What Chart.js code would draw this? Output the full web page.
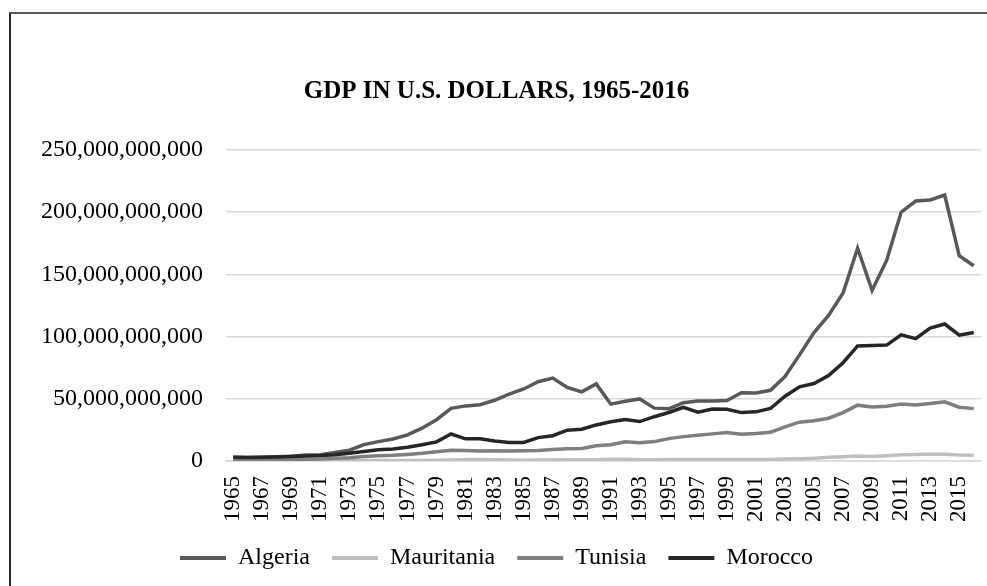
<!DOCTYPE html>
<html>
<head>
<meta charset="utf-8">
<title>GDP in U.S. Dollars, 1965-2016</title>
<script src="https://cdn.jsdelivr.net/npm/chart.js@4.4.1/dist/chart.umd.min.js"></script>
<style>
  html, body { margin: 0; padding: 0; background: #fff; overflow: hidden; }
  #frame {
    position: absolute; left: 9px; top: 12px; width: 1000px; height: 600px;
    border-left: 2px solid #262626; border-top: 2px solid #595959;
  }
  #wrap { position: absolute; left: 0; top: 0; width: 987px; height: 586px; }
</style>
</head>
<body>
<div id="frame"></div>
<div id="wrap"><canvas id="gdpChart"></canvas></div>
<script>
// GDP, billions of U.S. dollars
const years = [
    '1965', '1966', '1967', '1968', '1969', '1970', '1971', '1972', '1973', '1974',
    '1975', '1976', '1977', '1978', '1979', '1980', '1981', '1982', '1983', '1984',
    '1985', '1986', '1987', '1988', '1989', '1990', '1991', '1992', '1993', '1994',
    '1995', '1996', '1997', '1998', '1999', '2000', '2001', '2002', '2003', '2004',
    '2005', '2006', '2007', '2008', '2009', '2010', '2011', '2012', '2013', '2014',
    '2015', '2016'
];

const algeria = [
    3.0, 2.8, 3.0, 3.4, 3.8, 4.9, 5.1, 6.8, 8.7, 13.2,
    15.6, 17.7, 21.0, 26.4, 33.2, 42.3, 44.3, 45.2, 48.8, 53.7,
    57.9, 63.7, 66.7, 59.1, 55.6, 62.0, 45.7, 48.0, 49.9, 42.5,
    42.0, 46.9, 48.2, 48.2, 48.6, 54.8, 54.7, 56.8, 67.9, 85.3,
    103.2, 117.0, 135.0, 171.0, 137.2, 161.2, 200.0, 209.0, 209.8, 213.8,
    165.0, 157.0
];

const mauritania = [
    0.2, 0.2, 0.2, 0.2, 0.2, 0.2, 0.2, 0.3, 0.3, 0.4,
    0.4, 0.5, 0.5, 0.5, 0.6, 0.9, 1.2, 1.2, 1.1, 0.8,
    0.6, 0.8, 0.9, 1.0, 1.0, 1.0, 1.4, 1.5, 1.0, 1.1,
    1.2, 1.2, 1.2, 1.2, 1.2, 1.3, 1.3, 1.3, 1.6, 1.8,
    2.2, 3.0, 3.4, 4.0, 3.7, 4.3, 5.1, 5.2, 5.6, 5.4,
    4.8, 4.7
];

const tunisia = [
    0.9, 1.0, 1.0, 1.1, 1.2, 1.4, 1.7, 2.2, 2.7, 3.6,
    4.3, 4.6, 5.3, 6.2, 7.5, 8.7, 8.4, 8.1, 8.2, 8.0,
    8.2, 8.4, 9.3, 9.8, 10.1, 12.3, 13.0, 15.5, 14.6, 15.6,
    18.0, 19.6, 20.7, 21.8, 22.9, 21.5, 22.1, 23.1, 27.5, 31.2,
    32.3, 34.4, 38.9, 44.9, 43.5, 44.1, 45.8, 45.0, 46.3, 47.6,
    43.2, 42.1
];

const morocco = [
    3.0, 2.8, 3.0, 3.3, 3.6, 4.0, 4.4, 5.1, 6.2, 7.7,
    9.0, 9.7, 11.0, 13.0, 15.4, 21.7, 17.8, 17.8, 16.0, 14.8,
    14.9, 18.8, 20.3, 24.8, 25.6, 29.0, 31.5, 33.4, 31.7, 35.6,
    39.0, 43.2, 39.2, 41.8, 41.6, 38.9, 39.5, 42.2, 52.1, 59.6,
    62.3, 68.6, 79.0, 92.5, 92.9, 93.2, 101.4, 98.3, 106.8, 110.1,
    101.2, 103.3
];

// y axis ticks, billions
const yTicks = [0, 50, 100, 150, 200, 250];

const serif = '"Liberation Serif", "Times New Roman", serif';

function makeDataset(label, values, color, order) {
    return {
        label: label,
        data: values,
        borderColor: color,
        backgroundColor: color,
        borderWidth: 3.5,
        pointRadius: 0,
        pointHoverRadius: 0,
        tension: 0,
        fill: false,
        order: order
    };
}

const ctx = document.getElementById('gdpChart').getContext('2d');
new Chart(ctx, {
    type: 'line',
    data: {
        labels: years,
        datasets: [
            makeDataset('Algeria', algeria, '#595959', 4),
            makeDataset('Mauritania', mauritania, '#bfbfbf', 3),
            makeDataset('Tunisia', tunisia, '#7f7f7f', 2),
            makeDataset('Morocco', morocco, '#262626', 1)
        ]
    },
    options: {
        responsive: true,
        maintainAspectRatio: false,
        animation: false,
        layout: {
            padding: { left: 12, right: 6, top: 0, bottom: 6 }
        },
        plugins: {
            title: {
                display: true,
                text: 'GDP IN U.S. DOLLARS, 1965-2016',
                color: '#000',
                font: { family: serif, size: 25, weight: 'bold' },
                padding: { top: 77, bottom: 43 }
            },
            legend: {
                position: 'bottom',
                labels: {
                    color: '#000',
                    font: { family: serif, size: 24 },
                    boxWidth: 46,
                    boxHeight: 4,
                    padding: 22,
                    sort: (a, b) => a.datasetIndex - b.datasetIndex,
                    generateLabels: function(chart) {
                        const items = Chart.defaults.plugins.legend.labels.generateLabels(chart);
                        return items.map(item => Object.assign(item, { lineWidth: 0 }));
                    }
                }
            },
            tooltip: { enabled: false }
        },
        scales: {
            x: {
                offset: true,
                grid: { display: false, drawTicks: false },
                border: { display: true, color: '#d9d9d9', width: 1.5 },
                ticks: {
                    color: '#000',
                    font: { family: serif, size: 23 },
                    autoSkip: false,
                    minRotation: 90,
                    maxRotation: 90,
                    padding: 15,
                    callback: function(value, index) {
                        return index % 2 === 0 ? years[index] : '';
                    }
                },
                afterFit: function(scale) {
                    scale.height = 63;
                    scale.paddingLeft = 0;
                    scale.paddingRight = 0;
                }
            },
            y: {
                min: 0,
                max: 250,
                grid: { color: '#d9d9d9', lineWidth: 1.5, drawTicks: false },
                border: { display: false },
                ticks: {
                    color: '#000',
                    font: { family: serif, size: 24 },
                    padding: 23,
                    callback: function(value) {
                        return (value * 1e9).toLocaleString('en-US');
                    }
                },
                afterBuildTicks: function(axis) {
                    axis.ticks = yTicks.map(v => ({ value: v }));
                },
                afterFit: function(scale) {
                    scale.width = 214;
                }
            }
        }
    }
});
</script>
</body>
</html>
